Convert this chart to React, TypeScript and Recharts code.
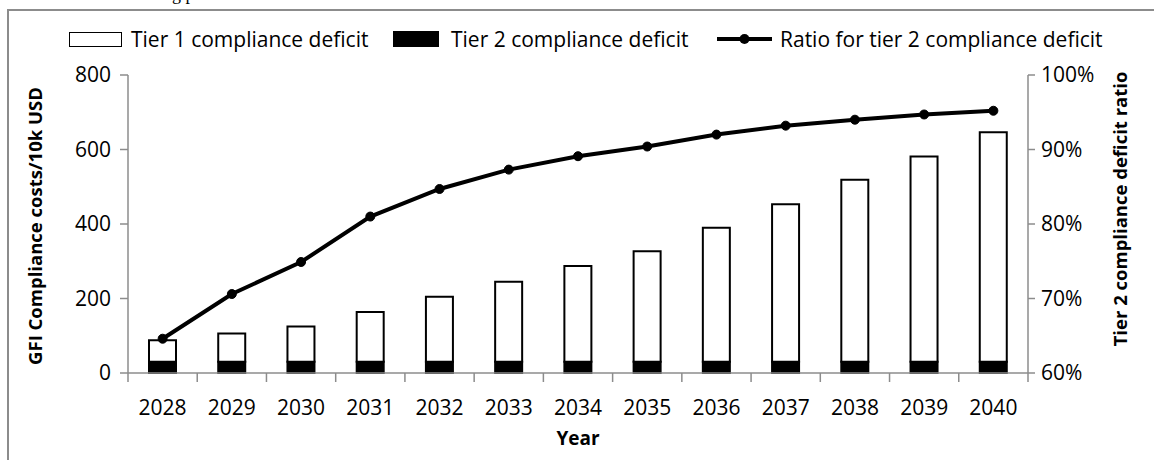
import React from "react"

import { Bar, ComposedChart, Line, XAxis, YAxis } from "recharts"

// values
const years = ["2028", "2029", "2030", "2031", "2032", "2033", "2034", "2035", "2036", "2037", "2038", "2039", "2040"]
const tier1Deficit = [58, 76, 95, 134, 175, 215, 257, 297, 360, 423, 489, 551, 616]
const tier2Deficit = [30, 30, 30, 30, 30, 30, 30, 30, 30, 30, 30, 30, 30]
const tier2Ratio = [0.646, 0.706, 0.749, 0.81, 0.847, 0.873, 0.891, 0.904, 0.92, 0.932, 0.94, 0.947, 0.952]

const costTicks = [0, 200, 400, 600, 800]
const ratioTicks = [0.6, 0.7, 0.8, 0.9, 1.0]

const data = years.map((year, i) => ({
	year,
	tier1: tier1Deficit[i],
	tier2: tier2Deficit[i],
	ratio: tier2Ratio[i]
}))

const font = "'Open Sans', sans-serif"
const axisGray = "#8c8c8c"
const textSize = 21
const titleSize = 18.5

// Excel style: tick marks sit between the categories
// eslint-disable-next-line @typescript-eslint/no-explicit-any
const YearTick = (props: any) => {
	const { x, y, payload, index, visibleTicksCount } = props
	const half = payload?.offset || 34.6
	return (
		<g>
			<line x1={x - half} y1={y} x2={x - half} y2={y + 9} stroke={axisGray} strokeWidth={1.5} />
			{index === visibleTicksCount - 1 && (
				<line x1={x + half} y1={y} x2={x + half} y2={y + 9} stroke={axisGray} strokeWidth={1.5} />
			)}
			<text x={x} y={y + 42} textAnchor="middle" fill="#000" fontFamily={font} fontSize={textSize}>
				{payload.value}
			</text>
		</g>
	)
}

const legendText: React.CSSProperties = { fontSize: textSize, color: "#000", whiteSpace: "nowrap" }
const legendItem: React.CSSProperties = {
	position: "absolute",
	top: 25,
	height: 28,
	display: "flex",
	alignItems: "center"
}

const App: React.FC = () => {
	return (
		<div
			style={{
				position: "fixed",
				left: 0,
				top: 0,
				width: 1154,
				height: 460,
				overflow: "hidden",
				background: "#fff",
				fontFamily: font
			}}
		>
			{/* caption cut off above the frame */}
			<span
				style={{
					position: "absolute",
					left: 172,
					top: -15,
					fontFamily: "'Liberation Serif', serif",
					fontSize: 18,
					lineHeight: "18px",
					color: "#000",
					whiteSpace: "pre"
				}}
			>
				g p
			</span>
			<div
				style={{
					position: "absolute",
					left: 7,
					top: 9,
					width: 1300,
					height: 600,
					borderTop: `2px solid ${axisGray}`,
					borderLeft: `2px solid ${axisGray}`
				}}
			/>
			<div style={{ position: "absolute", left: 0, top: 0 }}>
				<ComposedChart
					width={1154}
					height={460}
					data={data}
					margin={{ top: 75, right: 66, bottom: 47, left: 68 }}
				>
					<XAxis
						dataKey="year"
						height={40}
						axisLine={{ stroke: axisGray, strokeWidth: 1.5 }}
						tickLine={false}
						tickSize={0}
						tickMargin={0}
						interval={0}
						tick={<YearTick />}
					/>
					<YAxis
						yAxisId="cost"
						width={60}
						domain={[0, 800]}
						ticks={costTicks}
						axisLine={{ stroke: axisGray, strokeWidth: 1.5 }}
						tickLine={{ stroke: axisGray, strokeWidth: 1.5 }}
						tickSize={8}
						tickMargin={9}
						tick={{ fill: "#000", fontFamily: font, fontSize: textSize }}
					/>
					<YAxis
						yAxisId="ratio"
						orientation="right"
						width={60}
						domain={[0.6, 1.0]}
						ticks={ratioTicks}
						tickFormatter={(v: number) => `${Math.round(v * 100)}%`}
						axisLine={{ stroke: axisGray, strokeWidth: 1.5 }}
						tickLine={{ stroke: axisGray, strokeWidth: 1.5 }}
						tickSize={7}
						tickMargin={6}
						tick={{ fill: "#000", fontFamily: font, fontSize: textSize }}
					/>
					<Bar
						yAxisId="cost"
						dataKey="tier2"
						stackId="deficit"
						fill="#000"
						stroke="#000"
						strokeWidth={2}
						barSize={27}
						isAnimationActive={false}
					/>
					<Bar
						yAxisId="cost"
						dataKey="tier1"
						stackId="deficit"
						fill="#fff"
						stroke="#000"
						strokeWidth={2}
						barSize={27}
						isAnimationActive={false}
					/>
					<Line
						yAxisId="ratio"
						dataKey="ratio"
						stroke="#000"
						strokeWidth={4}
						dot={{ r: 4.5, fill: "#000", stroke: "#000", strokeWidth: 1 }}
						activeDot={false}
						isAnimationActive={false}
					/>
					<text
						x={578}
						y={445}
						textAnchor="middle"
						fontFamily={font}
						fontSize={titleSize + 0.5}
						fontWeight="bold"
						fill="#000"
					>
						Year
					</text>
					<text
						transform="translate(36,226) rotate(-90)"
						textAnchor="middle"
						dy="0.35em"
						fontFamily={font}
						fontSize={titleSize}
						fontWeight="bold"
						fill="#000"
					>
						GFI Compliance costs/10k USD
					</text>
					<text
						transform="translate(1121,209) rotate(-90)"
						textAnchor="middle"
						dy="0.35em"
						fontFamily={font}
						fontSize={titleSize}
						fontWeight="bold"
						fill="#000"
					>
						Tier 2 compliance deficit ratio
					</text>
				</ComposedChart>
			</div>
			{/* legend */}
			<div style={{ ...legendItem, left: 69 }}>
				<span
					style={{
						width: 51,
						height: 13,
						border: "1.5px solid #000",
						background: "#fff",
						marginRight: 9
					}}
				/>
				<span style={legendText}>Tier 1 compliance deficit</span>
			</div>
			<div style={{ ...legendItem, left: 393 }}>
				<span style={{ width: 46, height: 16, background: "#000", marginRight: 12 }} />
				<span style={legendText}>Tier 2 compliance deficit</span>
			</div>
			<div style={{ ...legendItem, left: 717 }}>
				<svg width={55} height={16} style={{ marginRight: 8 }}>
					<line x1={0} y1={8} x2={55} y2={8} stroke="#000" strokeWidth={4} />
					<circle cx={27.5} cy={8} r={5} fill="#000" />
				</svg>
				<span style={legendText}>Ratio for tier 2 compliance deficit</span>
			</div>
		</div>
	)
}

export default App
